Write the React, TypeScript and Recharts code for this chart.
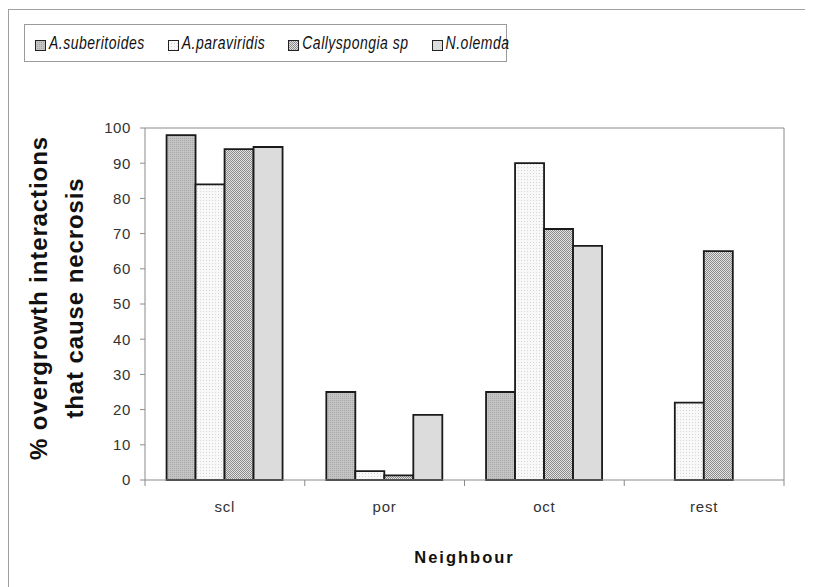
import {
  BarChart,
  Bar,
  XAxis,
  YAxis,
  Legend,
} from "recharts";

// chart values
const neighbours = ["scl", "por", "oct", "rest"];
const suberitoides = [98, 25, 25, null];
const paraviridis = [84, 2.5, 90, 22];
const callyspongia = [94, 1.3, 71.3, 65];
const olemda = [94.6, 18.5, 66.5, null];
const yTicks = [0, 10, 20, 30, 40, 50, 60, 70, 80, 90, 100];
const edgeTicks = [0, 1, 2, 3, 4];

const series = [
  { key: "sub", name: "A.suberitoides", fill: "url(#patSub)", values: suberitoides },
  { key: "para", name: "A.paraviridis", fill: "url(#patPara)", values: paraviridis },
  { key: "cal", name: "Callyspongia sp", fill: "url(#patCal)", values: callyspongia },
  { key: "ole", name: "N.olemda", fill: "#dcdcdc", values: olemda },
];

const chartData = neighbours.map((n, i) => {
  const row: { [k: string]: string | number | null } = { name: n, edge: i };
  series.forEach((s) => {
    row[s.key] = s.values[i];
  });
  return row;
});

const AXIS = "#8a8a8a";
const FONT = "'Liberation Sans', Arial, sans-serif";

function Patterns() {
  return (
    <svg width={0} height={0} style={{ position: "absolute" }}>
      <defs>
        <pattern id="patSub" width={2} height={2} patternUnits="userSpaceOnUse">
          <rect width={2} height={2} fill="#c4c4c4" />
          <rect width={1} height={1} fill="#a8a8a8" />
        </pattern>
        <pattern id="patPara" width={3} height={3} patternUnits="userSpaceOnUse">
          <rect width={3} height={3} fill="#f8f8f8" />
          <rect width={1} height={1} fill="#d6d6d6" />
        </pattern>
        <pattern id="patCal" width={2} height={2} patternUnits="userSpaceOnUse">
          <rect width={2} height={2} fill="#e2e2e2" />
          <rect width={1} height={1} fill="#8c8c8c" />
          <rect x={1} y={1} width={1} height={1} fill="#8c8c8c" />
        </pattern>
      </defs>
    </svg>
  );
}

function LegendBox() {
  return (
    <div
      style={{
        width: 483,
        height: 38,
        border: "1px solid #9a9a9a",
        boxSizing: "border-box",
        fontFamily: FONT,
        fontStyle: "italic",
        fontSize: 14,
        color: "#111",
        display: "flex",
        alignItems: "center",
        gap: 23,
        paddingLeft: 10,
      }}
    >
      {series.map((s) => (
        <div
          key={s.key}
          style={{ display: "flex", alignItems: "center", whiteSpace: "nowrap", letterSpacing: 0.5 }}
        >
          <svg width={11} height={11} style={{ marginRight: 3, marginTop: 5 }}>
            <rect x={0.5} y={0.5} width={10} height={10} fill={s.fill} stroke="#222" />
          </svg>
          <span style={{ display: "inline-block", transform: "scaleY(1.3)" }}>{s.name}</span>
        </div>
      ))}
    </div>
  );
}

function YLabel({ viewBox }: { viewBox?: { x: number; y: number; height: number } }) {
  const cy = (viewBox?.y ?? 120) + (viewBox?.height ?? 352) / 2 - 6;
  const style = { fontFamily: FONT, fontWeight: 700, fontSize: 24, letterSpacing: 0.9, fill: "#111" };
  return (
    <g>
      <text x={30} y={cy} transform={`rotate(-90 30 ${cy})`} textAnchor="middle" dominantBaseline="central" style={style}>
        % overgrowth interactions
      </text>
      <text x={66} y={cy} transform={`rotate(-90 66 ${cy})`} textAnchor="middle" dominantBaseline="central" style={style}>
        that cause necrosis
      </text>
    </g>
  );
}

export default function App() {
  return (
    <div style={{ position: "relative", width: 805, height: 579 }}>
      <Patterns />
      <div
        style={{
          position: "absolute",
          left: 0,
          top: 1,
          width: 805,
          height: 578,
          borderLeft: "1px solid #a0a0a0",
          borderTop: "1px solid #a0a0a0",
        }}
      />
      <BarChart
        width={805}
        height={579}
        data={chartData}
        margin={{ top: 119, right: 28, bottom: 0, left: 0 }}
        barCategoryGap="13.5%"
        barGap={0}
        style={{ position: "absolute", left: 0, top: 0 }}
      >
        <XAxis
          xAxisId="b_cat"
          dataKey="name"
          height={106}
          axisLine={false}
          tickLine={false}
          tickSize={0}
          tickMargin={20}
          tick={{ fontFamily: FONT, fontSize: 15, fill: "#333", letterSpacing: 0.8 }}
          label={{
            value: "Neighbour",
            position: "insideBottom",
            offset: 24,
            style: { fontFamily: FONT, fontWeight: 700, fontSize: 16.5, letterSpacing: 2, fill: "#111" },
          }}
        />
        <XAxis
          xAxisId="a_edge"
          type="number"
          dataKey="edge"
          domain={[0, 4]}
          ticks={edgeTicks}
          height={1}
          stroke={AXIS}
          tickSize={6}
          tickFormatter={() => ""}
          allowDataOverflow
        />
        <XAxis xAxisId="top" orientation="top" height={1} tick={false} tickLine={false} stroke={AXIS} />
        <YAxis
          yAxisId="val"
          domain={[0, 100]}
          ticks={yTicks}
          width={137}
          stroke={AXIS}
          tickSize={5}
          tickMargin={9}
          tick={{ fontFamily: FONT, fontSize: 15, fill: "#333", letterSpacing: 0.6 }}
          label={{ content: <YLabel /> }}
        />
        <YAxis yAxisId="right" orientation="right" width={1} domain={[0, 100]} tick={false} tickLine={false} stroke={AXIS} />
        <Legend
          verticalAlign="middle"
          align="center"
          content={() => <LegendBox />}
          wrapperStyle={{ position: "absolute", left: 16, top: 16, width: 483, height: 38 }}
        />
        {series.map((s) => (
          <Bar
            key={s.key}
            xAxisId="b_cat"
            yAxisId="val"
            dataKey={s.key}
            name={s.name}
            fill={s.fill}
            stroke="#1a1a1a"
            strokeWidth={1.8}
            isAnimationActive={false}
          />
        ))}
      </BarChart>
    </div>
  );
}
